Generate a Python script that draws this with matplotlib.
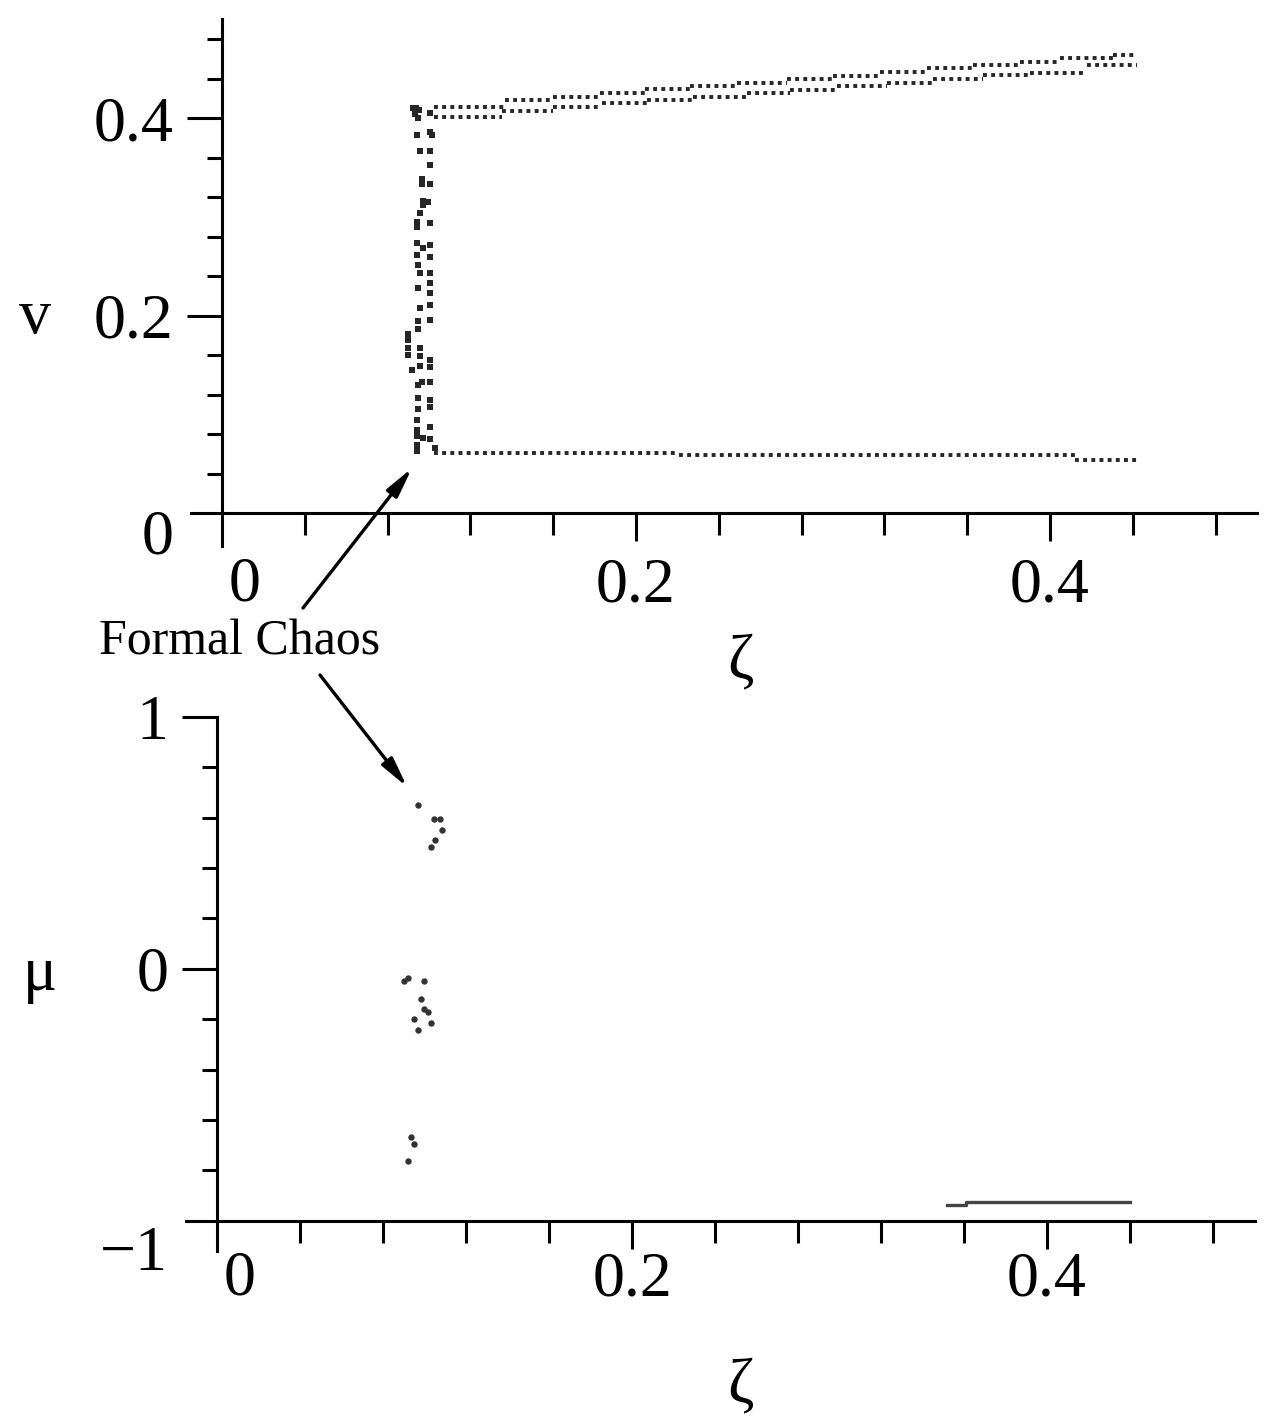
import matplotlib
matplotlib.use("Agg")
import matplotlib.pyplot as plt

plt.rcParams['font.family'] = ['Liberation Serif', 'DejaVu Serif']

# top panel: v against zeta (step levels, last z is the end of the branch)
upper_z = [0.1025, 0.1367, 0.1599, 0.1826, 0.2043, 0.2261, 0.2488, 0.2729, 0.2952,
           0.3179, 0.3406, 0.3628, 0.3855, 0.4048, 0.4304, 0.4420]
upper_v = [0.4114, 0.4182, 0.4216, 0.4250, 0.4291, 0.4324, 0.4357, 0.4392, 0.4425,
           0.4463, 0.4503, 0.4537, 0.4570, 0.4605, 0.4638, 0.4638]
lower_z = [0.1025, 0.1353, 0.1599, 0.1836, 0.2053, 0.2275, 0.2536, 0.2744, 0.2971,
           0.3213, 0.3435, 0.3676, 0.3903, 0.4179, 0.4420]
lower_v = [0.4013, 0.4074, 0.4114, 0.4149, 0.4182, 0.4216, 0.4256, 0.4284, 0.4324,
           0.4357, 0.4392, 0.4435, 0.4452, 0.4537, 0.4537]
base_z = [0.1025, 0.221, 0.412, 0.4420]
base_v = [0.0608, 0.0585, 0.0535, 0.0535]

# the chaotic band near zeta ~ 0.095
band_left_z = [0.0923, 0.0930, 0.0938, 0.0947, 0.0950, 0.0941, 0.0957, 0.0965, 0.0965,
               0.0972, 0.0972, 0.0957, 0.0941, 0.0941, 0.0941, 0.0972, 0.0941, 0.0948,
               0.0957, 0.0948, 0.0957, 0.0948, 0.0948, 0.0900, 0.0900, 0.0900, 0.0957,
               0.0900, 0.0957, 0.0916, 0.0957, 0.0965, 0.0948, 0.0948, 0.0948, 0.0941,
               0.0941, 0.0941, 0.0972, 0.0941, 0.0941]
band_left_v = [0.410, 0.404, 0.410, 0.400, 0.408, 0.383, 0.367, 0.338, 0.333,
               0.316, 0.312, 0.304, 0.295, 0.290, 0.273, 0.268, 0.261, 0.251,
               0.243, 0.228, 0.208, 0.194, 0.186, 0.181, 0.175, 0.167, 0.167,
               0.160, 0.159, 0.145, 0.149, 0.133, 0.130, 0.116, 0.105, 0.094,
               0.084, 0.078, 0.076, 0.069, 0.063]
band_right_z = [0.1005, 0.1005, 0.1013, 0.1005, 0.1005, 0.1005, 0.0997, 0.1005, 0.1005,
                0.1005, 0.1005, 0.1005, 0.1005, 0.1005, 0.1005, 0.1005, 0.1005, 0.1005,
                0.1005, 0.1005, 0.1005, 0.1005, 0.1029]
band_right_v = [0.405, 0.386, 0.383, 0.367, 0.352, 0.333, 0.315, 0.294, 0.271,
                0.259, 0.243, 0.233, 0.223, 0.211, 0.195, 0.155, 0.148, 0.133,
                0.114, 0.107, 0.087, 0.075, 0.066]

# bottom panel: mu against zeta
mu_pts_z = [0.0967, 0.1046, 0.1075, 0.1083, 0.1051, 0.1031, 0.0919, 0.0901, 0.0999,
            0.0983, 0.0999, 0.1018, 0.0951, 0.1033, 0.0967, 0.0935, 0.0951, 0.0919]
mu_pts = [0.650, 0.594, 0.594, 0.552, 0.512, 0.484, -0.035, -0.049, -0.049,
          -0.118, -0.159, -0.172, -0.200, -0.214, -0.241, -0.668, -0.696, -0.763]
mu_line_z = [0.352, 0.361, 0.440]
mu_line = [-0.939, -0.926, -0.926]

minor_x = [0.04, 0.08, 0.12, 0.16, 0.24, 0.28, 0.32, 0.36, 0.44, 0.48]
minor_v = [0.04, 0.08, 0.12, 0.16, 0.24, 0.28, 0.32, 0.36, 0.44, 0.48]
minor_mu = [0.8, 0.6, 0.4, 0.2, -0.2, -0.4, -0.6, -0.8]

fig = plt.figure(figsize=(12.73, 14.22), dpi=100)
ax1 = fig.add_axes([0.150, 0.6163, 0.8374, 0.3701])
ax2 = fig.add_axes([0.1461, 0.1203, 0.8394, 0.3755])

dot = (0, (1.0, 1.1))
gray = '#262626'
for zs, vs in [(upper_z, upper_v), (lower_z, lower_v), (base_z, base_v)]:
    ax1.hlines(vs[:-1], zs[:-1], zs[1:], linestyles=[dot], lw=2.8, color=gray)
ax1.plot(band_left_z, band_left_v, 's', ms=4.2, color=gray, mew=0)
ax1.plot(band_right_z, band_right_v, 's', ms=4.2, color=gray, mew=0)

ax2.plot(mu_pts_z, mu_pts, 'o', ms=4.6, color='#333333', mew=0)
ax2.plot(mu_line_z, mu_line, drawstyle='steps-post', lw=2.4, color='#444444')

for ax, ylim, ypos, xpad in [(ax1, (-0.033, 0.5), 0, 12), (ax2, (-1.12, 1.0), -1, 2)]:
    ax.set_xlim(-0.015, 0.5)
    ax.set_ylim(*ylim)
    ax.spines['top'].set_visible(False)
    ax.spines['right'].set_visible(False)
    ax.spines['left'].set_position(('data', 0))
    ax.spines['bottom'].set_position(('data', ypos))
    ax.spines['left'].set_linewidth(2.2)
    ax.spines['bottom'].set_linewidth(2.2)
    ax.patch.set_alpha(0)
    ax.set_xticks([0.2, 0.4], ['0.2', '0.4'])
    ax.set_xticks(minor_x, minor=True)
    ax.tick_params(axis='x', which='major', length=20, width=2.2, labelsize=46, pad=xpad)
    ax.tick_params(axis='x', which='minor', length=16, width=2.2)
    ax.tick_params(axis='y', which='major', length=25, width=2.2, labelsize=46, pad=10)
    ax.tick_params(axis='y', which='minor', length=11, width=2.2)

ax1.set_yticks([0.2, 0.4], ['0.2', '0.4'])
ax1.set_yticks(minor_v, minor=True)
ax2.set_yticks([0, 1], ['0', '1'])
ax2.set_yticks(minor_mu, minor=True)

ax1.text(-0.031, -0.026, '0', fontsize=46, ha='center', va='center')
ax1.text(0.011, -0.073, '0', fontsize=46, ha='center', va='center')
ax2.text(0.011, -1.234, '0', fontsize=46, ha='center', va='center')
ax2.text(-0.040, -1.135, '\u22121', fontsize=46, ha='center', va='center')

fig.text(740 / 1273, 1 - 662 / 1422, '\u03b6', fontsize=46, ha='center', va='center')
fig.text(740 / 1273, 1 - 1386 / 1422, '\u03b6', fontsize=46, ha='center', va='center')
fig.text(35 / 1273, 1 - 318 / 1422, 'v', fontsize=46, ha='center', va='center')
fig.text(40 / 1273, 1 - 975 / 1422, '\u03bc', fontsize=46, ha='center', va='center')
fig.text(240 / 1273, 1 - 642 / 1422, 'Formal Chaos', fontsize=36, ha='center', va='center')

arrow = dict(arrowstyle='-|>,head_width=0.2,head_length=0.9', lw=2.4, color='black',
             mutation_scale=20, shrinkA=0, shrinkB=0)
ax1.annotate('', xy=(0.0918, 0.0456), xytext=(303, 814), textcoords='figure pixels',
             arrowprops=arrow, annotation_clip=False)
ax2.annotate('', xy=(0.0916, 0.722), xytext=(320, 747), textcoords='figure pixels',
             arrowprops=arrow, annotation_clip=False)

fig.savefig('out.png', dpi=100)
